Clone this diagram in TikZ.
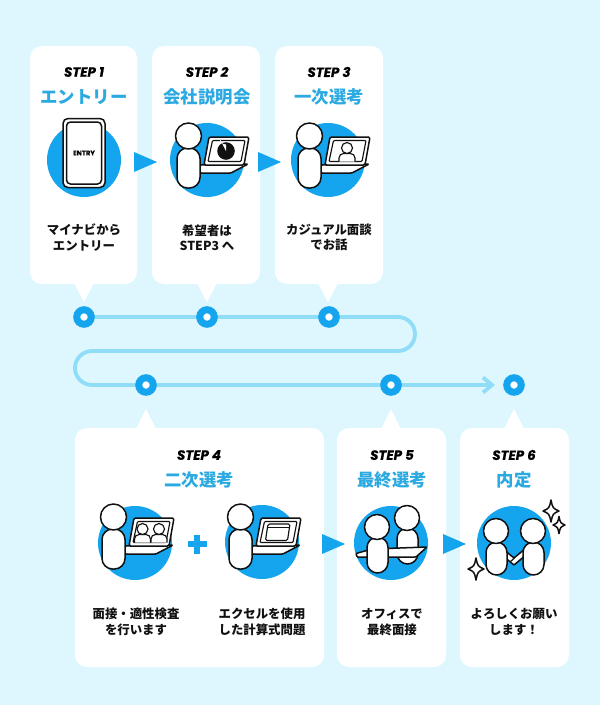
\documentclass[tikz,border=0pt]{standalone}
\usepackage{fontspec}
\setmainfont{Poppins}
\newfontfamily\jpfont{Noto Sans CJK JP}
\newfontfamily\stepfont[FakeBold=0.6]{Poppins Bold Italic}
\newfontfamily\entryfont[FakeBold=0.5]{Poppins Bold}
\pgfdeclarelayer{under}
\pgfsetlayers{under,main}
\definecolor{bgc}{HTML}{DEF7FF}
\definecolor{trackc}{HTML}{8FDDF6}
\definecolor{dotc}{HTML}{14A5EE}
\definecolor{titlec}{HTML}{2BA9E1}
\definecolor{inkc}{HTML}{111111}
\tikzset{
  cardbox/.style={fill=white,rounded corners=12pt,draw=none},
  tailbox/.style={fill=white,draw=none},
  dotnode/.style={circle,draw=dotc,line width=7pt,fill=white,minimum size=14.5pt,inner sep=0pt},
  tracklin/.style={draw=trackc,line width=3.8pt,rounded corners=17pt},
  chev/.style={draw=trackc,line width=3.8pt},
  flowtri/.style={fill=dotc,draw=none},
  disc/.style={circle,fill=dotc,minimum size=74pt,inner sep=0pt,draw=none},
  stepl/.style={font=\stepfont\fontsize{13.4}{15}\selectfont,text=black,inner sep=0pt},
  titlel/.style={font=\jpfont\bfseries\fontsize{17.4}{20}\selectfont,text=titlec,inner sep=0pt},
  bodyl/.style={font=\jpfont\bfseries\fontsize{12.4}{15.5}\selectfont,text=inkc,inner sep=0pt,align=center},
  ol/.style={draw=inkc,line width=1.5pt,fill=white,line join=round},
  thin ol/.style={draw=inkc,line width=1.15pt,fill=white,line join=round}
}
\newcommand{\human}[6]{% hx hy r bx1 bx2 by1 ; by2 from next
  \def\hx{#1}\def\hy{#2}\def\hr{#3}\def\ba{#4}\def\bb{#5}\def\bc{#6}\humanb}
\newcommand{\humanb}[1]{%
  \draw[ol,rounded corners=10.5pt] (\ba,\bc) rectangle (\bb,#1);
  \draw[ol] (\hx,\hy) circle (\hr);}
\newcommand{\laptop}{%
  \draw[ol,rounded corners=1pt] (-7,5) -- (41,4) -- (24,13) -- (-7,13) -- cycle;
  \draw[ol,rounded corners=1.5pt] (2,-23) -- (42,-23) -- (37,5) -- (-3,5) -- cycle;
  \draw[thin ol,rounded corners=1pt] (5.5,-19.5) -- (38,-19.5) -- (34,1.5) -- (1,1.5) -- cycle;
  \human{-18.5}{-24}{13}{-30}{-7}{-12}{28}%
}
\newcommand{\tinyman}[2]{%
  \begin{scope}[shift={(#1,#2)}]
  \draw[thin ol,rounded corners=4.5pt] (-8,10) -- (-8,2) -- (8,2) -- (8,10);
  \draw[thin ol] (0,-3.5) circle (5.5);
  \end{scope}}
\newcommand{\spark}[4]{%
  \draw[ol] (#1,#2-#4) .. controls (#1+0.22*#3,#2-0.25*#4) .. (#1+#3,#2)
    .. controls (#1+0.22*#3,#2+0.25*#4) .. (#1,#2+#4)
    .. controls (#1-0.22*#3,#2+0.25*#4) .. (#1-#3,#2)
    .. controls (#1-0.22*#3,#2-0.25*#4) .. cycle;}
\begin{document}
\begin{tikzpicture}[x=1pt,y=-1pt]
\useasboundingbox (0,0) rectangle (600,705);
% track
\coordinate (c1) at (415,317);
\coordinate (c2) at (415,351);
\coordinate (c3) at (75,351);
\coordinate (c4) at (75,385);
\coordinate (e1) at (493,385);
\node[dotnode] (d1) at (84,317) {};
\node[dotnode] (d2) at (207,317) {};
\node[dotnode] (d3) at (329,317) {};
\node[dotnode] (d4) at (146,385) {};
\node[dotnode] (d5) at (391,385) {};
\node[dotnode] (d6) at (514,385) {};
\begin{pgfonlayer}{under}
\fill[bgc] (0,0) rectangle (600,705);
\draw[tracklin] (d1.center) -- (c1) -- (c2) -- (c3) -- (c4) -- (e1);
\draw[chev,line join=miter] (483,377.5) -- (492,385) -- (483,392.5);
\end{pgfonlayer}
% cards
\fill[tailbox] (74,283) -- (84,302) -- (94,283) -- cycle;
\fill[tailbox] (197,283) -- (207,302) -- (217,283) -- cycle;
\fill[tailbox] (318,283) -- (328,302) -- (338,283) -- cycle;
\fill[tailbox] (136,429) -- (146,409) -- (156,429) -- cycle;
\fill[tailbox] (381,429) -- (391,409) -- (401,429) -- cycle;
\fill[tailbox] (504,429) -- (514,409) -- (524,429) -- cycle;
\path[cardbox] (30,46) rectangle (137,284);
\path[cardbox] (152,46) rectangle (260,284);
\path[cardbox] (275,46) rectangle (383,284);
\path[cardbox] (75,428) rectangle (324,667);
\path[cardbox] (337,428) rectangle (446,667);
\path[cardbox] (460,428) rectangle (569,667);
% flow triangles
\fill[flowtri] (134,152) -- (157,162) -- (134,172) -- cycle;
\fill[flowtri] (258,152) -- (281,162) -- (258,172) -- cycle;
\fill[flowtri] (322,534) -- (345,544) -- (322,554) -- cycle;
\fill[flowtri] (443,534) -- (466,544) -- (443,554) -- cycle;
% plus
\fill[flowtri] (194,534.5) rectangle (200,553.5);
\fill[flowtri] (187.5,541) rectangle (206.5,547);
% texts
\node[stepl] (s1) at (84,72) {STEP 1};
\node[stepl] (s2) at (207,72) {STEP 2};
\node[stepl] (s3) at (329,72) {STEP 3};
\node[stepl] (s4) at (199,455) {STEP 4};
\node[stepl] (s5) at (392,455) {STEP 5};
\node[stepl] (s6) at (514,455) {STEP 6};
\node[titlel] (t1) at (84,97) {エントリー};
\node[titlel] (t2) at (207,97) {会社説明会};
\node[titlel] (t3) at (329,97) {一次選考};
\node[titlel] (t4) at (199,480) {二次選考};
\node[titlel] (t5) at (392,480) {最終選考};
\node[titlel] (t6) at (514,480) {内定};
\node[bodyl] (b1) at (84,237.5) {マイナビから\\エントリー};
\node[bodyl] (b2) at (207,237.5) {希望者は\\STEP3 へ};
\node[bodyl] (b3) at (329,237.5) {カジュアル面談\\でお話};
\node[bodyl] (b4) at (136,622) {面接・適性検査\\を行います};
\node[bodyl] (b5) at (262,622) {エクセルを使用\\した計算式問題};
\node[bodyl] (b6) at (392,622) {オフィスで\\最終面接};
\node[bodyl] (b7) at (514,622) {よろしくお願い\\します！};
% discs
\node[disc] (i1) at (84,160) {};
\node[disc] (i2) at (207,160) {};
\node[disc] (i3) at (328,160) {};
\node[disc] (i4) at (135,543) {};
\node[disc] (i5) at (262,542) {};
\node[disc] (i6) at (391,543) {};
\node[disc] (i7) at (514,543) {};
% phone
\draw[ol,rounded corners=5pt] (63,118.5) rectangle (105,187.5);
\draw[ol,rounded corners=4pt] (66.5,122) rectangle (101.5,184);
\node[font=\entryfont\fontsize{6.8}{8}\selectfont,inner sep=0pt] (en) at (84,153) {ENTRY};
% icon 2
\begin{scope}[shift={(207,160)}]
\laptop
\fill[inkc] (19,-9) circle (8.8);
\fill[white] (19,-9) -- (19,-15.5) arc[start angle=90,end angle=180,radius=6.5] -- cycle;
\end{scope}
% icon 3
\begin{scope}[shift={(328,160)}]
\laptop
\tinyman{19}{-8.5}
\end{scope}
% icon 4
\begin{scope}[shift={(132,541)}]
\laptop
\tinyman{10.5}{-8.5}
\tinyman{27}{-8.5}
\end{scope}
% icon 5
\begin{scope}[shift={(259,541)}]
\laptop
\draw[thin ol,rounded corners=1.5pt] (9,-17) -- (31,-17) -- (28.5,-0.5) -- (6.5,-0.5) -- cycle;
\draw[draw=inkc,line width=1pt] (8.5,-14) -- (30.5,-14);
\end{scope}
% icon 6: interview
\human{407}{518}{12.5}{397}{418}{528}{564}
\draw[ol,rounded corners=1pt] (356,553.5) -- (372,549) -- (427,547) -- (416,557) -- (357,557) -- cycle;
\human{377}{527}{12.5}{367}{388}{537}{573}
% icon 7: handshake
\draw[ol,rounded corners=0.5pt] (503,549) -- (514,558) -- (526,548) -- (526,555) -- (514,565) -- (503,556) -- cycle;
\draw[draw=inkc,line width=1.2pt] (510.5,561.5) -- (514.5,558);
\human{496}{531}{12.5}{486}{507}{542}{575}
\human{533}{531}{12.5}{523}{544}{542}{575}
\spark{551}{511}{8}{11}
\spark{559}{525}{6}{8.5}
\spark{476}{569}{8}{11}
\end{tikzpicture}
\end{document}
